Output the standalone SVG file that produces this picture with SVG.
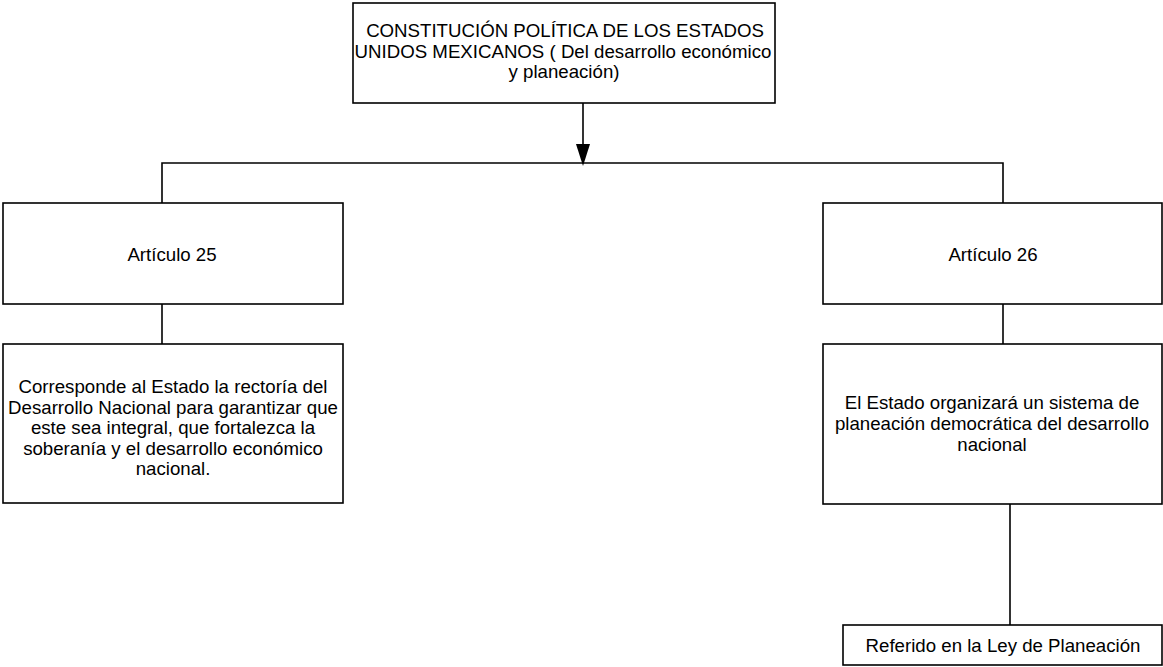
<svg xmlns="http://www.w3.org/2000/svg" width="1163" height="667" viewBox="0 0 1163 667">
<style>
.box{fill:#fff;stroke:#000;stroke-width:1.6}
.ln{fill:none;stroke:#000;stroke-width:1.6}
text{font-family:"Liberation Sans",Arial,sans-serif;font-size:18.67px;fill:#000;text-anchor:middle}
</style>
<rect width="1163" height="667" fill="#fff"/>
<g id="connectors">
<line class="ln" x1="583" y1="103" x2="583" y2="146"/>
<polygon points="576,144 590,144 583,166" fill="#000"/>
<polyline class="ln" points="162,203 162,163 1003,163 1003,203"/>
<line class="ln" x1="162" y1="304" x2="162" y2="344"/>
<line class="ln" x1="1003" y1="304" x2="1003" y2="344"/>
<line class="ln" x1="1010" y1="504" x2="1010" y2="625"/>
</g>
<g id="n-constitucion">
<rect class="box" x="353" y="3" width="422" height="100"/>
<text x="565" y="37">CONSTITUCIÓN POLÍTICA DE LOS ESTADOS</text>
<text x="563" y="57.5">UNIDOS MEXICANOS ( Del desarrollo económico</text>
<text x="564" y="78">y planeación)</text>
</g>
<g id="n-art25">
<rect class="box" x="3" y="203" width="340" height="101"/>
<text x="172" y="261">Artículo 25</text>
</g>
<g id="n-art25-desc">
<rect class="box" x="3" y="344" width="340" height="159"/>
<text x="173" y="393">Corresponde al Estado la rectoría del</text>
<text x="173" y="413.5">Desarrollo Nacional para garantizar que</text>
<text x="173" y="434">este sea integral, que fortalezca la</text>
<text x="173" y="454.5">soberanía y el desarrollo económico</text>
<text x="173" y="475">nacional.</text>
</g>
<g id="n-art26">
<rect class="box" x="823" y="203" width="339" height="101"/>
<text x="993" y="260.5">Artículo 26</text>
</g>
<g id="n-art26-desc">
<rect class="box" x="823" y="344" width="339" height="160"/>
<text x="992" y="409">El Estado organizará un sistema de</text>
<text x="992" y="430">planeación democrática del desarrollo</text>
<text x="992" y="451">nacional</text>
</g>
<g id="n-ley">
<rect class="box" x="843" y="625" width="319" height="40"/>
<text x="1003" y="651.5">Referido en la Ley de Planeación</text>
</g>
</svg>
